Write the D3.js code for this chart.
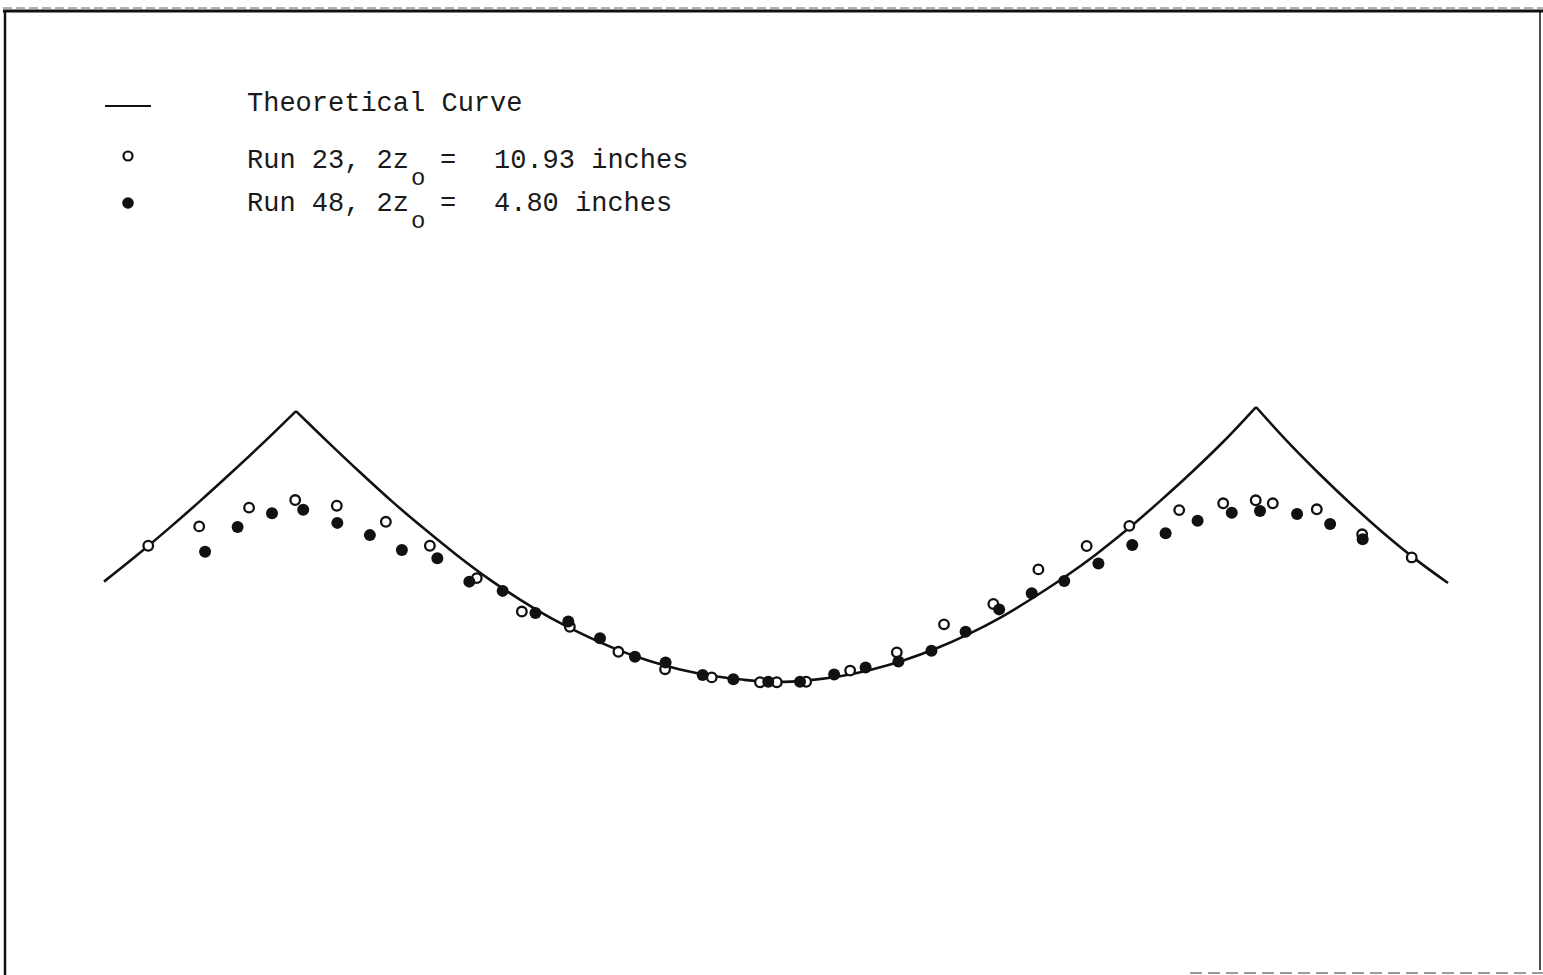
<!DOCTYPE html>
<html>
<head>
<meta charset="utf-8">
<script src="https://cdn.jsdelivr.net/npm/d3@7"></script>
<style>
  html, body { margin: 0; padding: 0; background: #fff; }
  svg { display: block; }
  text { font-family: "Liberation Mono", "DejaVu Sans Mono", monospace; fill: #1a1a1a; }
</style>
</head>
<body>
<svg id="chart" width="1543" height="975"></svg>
<script>
// phase along the wave (degrees, trough = 0) and height (crest = 1)
const theoryPhase = [-252, -240, -228, -216, -204, -192, -180, -168, -156, -144, -132, -120, -108, -96, -84, -72, -60, -48, -36, -24, -12, 0,
    12, 24, 36, 48, 60, 72, 84, 96, 108, 120, 132, 144, 156, 168, 180, 192, 204, 216, 228, 240, 252];
const theoryHeight = [0.369, 0.463, 0.562, 0.665, 0.772, 0.882, 0.996, 0.882, 0.771, 0.664, 0.564, 0.469, 0.381, 0.303, 0.233, 0.173, 0.121, 0.079, 0.046, 0.023, 0.008, 0,
    0.006, 0.021, 0.046, 0.080, 0.123, 0.175, 0.236, 0.307, 0.384, 0.469, 0.563, 0.665, 0.772, 0.886, 1.011, 0.882, 0.763, 0.651, 0.546, 0.450, 0.364];

// Run 23 (open circles)
const run23Phase = [-235.4, -216.3, -197.6, -180.3, -164.7, -146.3, -129.8, -112.2, -95.3, -77.3, -59.1, -41.6, -24.1, -6, 0.3,
    11.3, 27.8, 45.3, 63, 81.5, 98.4, 116.5, 132.5, 151.2, 167.7, 179.9, 186.3, 202.8, 219.8, 238.4];
const run23Height = [0.501, 0.572, 0.641, 0.669, 0.648, 0.589, 0.501, 0.382, 0.259, 0.203, 0.111, 0.047, 0.017, -0.001, -0.001,
    0.001, 0.042, 0.109, 0.212, 0.287, 0.414, 0.5, 0.574, 0.632, 0.657, 0.668, 0.657, 0.635, 0.543, 0.458];

// Run 48 (filled circles)
const run48Phase = [-214.1, -201.9, -189, -177.3, -164.5, -152.3, -140.3, -127, -115, -102.5, -90.2, -77.9, -66, -52.9, -41.4, -27.5, -16, -2.9,
    9, 21.8, 33.6, 45.9, 58.3, 71.1, 83.7, 95.9, 108.1, 120.9, 133.6, 146.1, 158.1, 170.9, 181.5, 195.4, 207.8, 220];
const run48Height = [0.479, 0.57, 0.62, 0.633, 0.585, 0.54, 0.485, 0.455, 0.369, 0.335, 0.254, 0.222, 0.161, 0.093, 0.072, 0.026, 0.01, 0.001,
    0.001, 0.028, 0.053, 0.075, 0.115, 0.185, 0.267, 0.326, 0.371, 0.436, 0.504, 0.547, 0.593, 0.622, 0.629, 0.618, 0.581, 0.525];

const legendLabels = ["Theoretical Curve", "Run 23, 2z", "Run 48, 2z"];
const legendValues = ["", "10.93 inches", "4.80 inches"];

const svg = d3.select("#chart");

const x = d3.scaleLinear().domain([-180, 180]).range([296, 1256]);
const y = d3.scaleLinear().domain([0, 1]).range([682, 410]);

// page frame
const frame = svg.append("g");
frame.append("line").attr("x1", 3).attr("x2", 1543).attr("y1", 11).attr("y2", 11)
    .attr("stroke", "#111").attr("stroke-width", 3);
frame.append("line").attr("x1", 3).attr("x2", 1543).attr("y1", 8).attr("y2", 8)
    .attr("stroke", "#999").attr("stroke-width", 1.5).attr("stroke-dasharray", "9,4");
frame.append("line").attr("x1", 5).attr("x2", 5).attr("y1", 10).attr("y2", 975)
    .attr("stroke", "#111").attr("stroke-width", 2.5);
frame.append("line").attr("x1", 1540).attr("x2", 1540).attr("y1", 10).attr("y2", 970)
    .attr("stroke", "#111").attr("stroke-width", 1.5);
frame.append("line").attr("x1", 1190).attr("x2", 1543).attr("y1", 973).attr("y2", 973)
    .attr("stroke", "#999").attr("stroke-width", 2).attr("stroke-dasharray", "12,6");

// theoretical curve, split at the two crests so they stay sharp
const theory = theoryPhase.map((p, i) => ({ p, h: theoryHeight[i] }));
const crestIdx = [theoryPhase.indexOf(-180), theoryPhase.indexOf(180)];
const pieces = [
    theory.slice(0, crestIdx[0] + 1),
    theory.slice(crestIdx[0], crestIdx[1] + 1),
    theory.slice(crestIdx[1])
];
const line = d3.line()
    .x(d => x(d.p))
    .y(d => y(d.h))
    .curve(d3.curveCatmullRom);

svg.append("g").selectAll("path")
    .data(pieces)
    .enter()
    .append("path")
    .attr("d", line)
    .attr("fill", "none")
    .attr("stroke", "#111")
    .attr("stroke-width", 2.6)
    .attr("stroke-linejoin", "miter");

// measured points
const run23 = run23Phase.map((p, i) => ({ p, h: run23Height[i] }));
const run48 = run48Phase.map((p, i) => ({ p, h: run48Height[i] }));

svg.append("g").selectAll("circle")
    .data(run23)
    .enter()
    .append("circle")
    .attr("cx", d => x(d.p))
    .attr("cy", d => y(d.h))
    .attr("r", 4.8)
    .attr("fill", "#fff")
    .attr("stroke", "#111")
    .attr("stroke-width", 2.3);

svg.append("g").selectAll("circle")
    .data(run48)
    .enter()
    .append("circle")
    .attr("cx", d => x(d.p))
    .attr("cy", d => y(d.h))
    .attr("r", 6)
    .attr("fill", "#111");

// legend
const legend = svg.append("g");
legend.append("line")
    .attr("x1", 105).attr("x2", 151).attr("y1", 106).attr("y2", 106)
    .attr("stroke", "#111").attr("stroke-width", 2.2);
legend.append("circle").attr("cx", 128).attr("cy", 156).attr("r", 4.5)
    .attr("fill", "#fff").attr("stroke", "#111").attr("stroke-width", 2.2);
legend.append("circle").attr("cx", 128).attr("cy", 203).attr("r", 5.8)
    .attr("fill", "#111");

const rowY = [111, 168, 211];
legendLabels.forEach((label, i) => {
    legend.append("text")
        .attr("x", 247)
        .attr("y", rowY[i])
        .style("font-size", "27px")
        .text(label);
    if (i > 0) {
        // subscript o of 2z0
        legend.append("text")
            .attr("x", 411).attr("y", rowY[i] + 17)
            .style("font-size", "24px")
            .text("o");
        legend.append("text")
            .attr("x", 440).attr("y", rowY[i])
            .style("font-size", "27px")
            .text("=");
        legend.append("text")
            .attr("x", 494).attr("y", rowY[i])
            .style("font-size", "27px")
            .text(legendValues[i]);
    }
});
</script>
</body>
</html>
